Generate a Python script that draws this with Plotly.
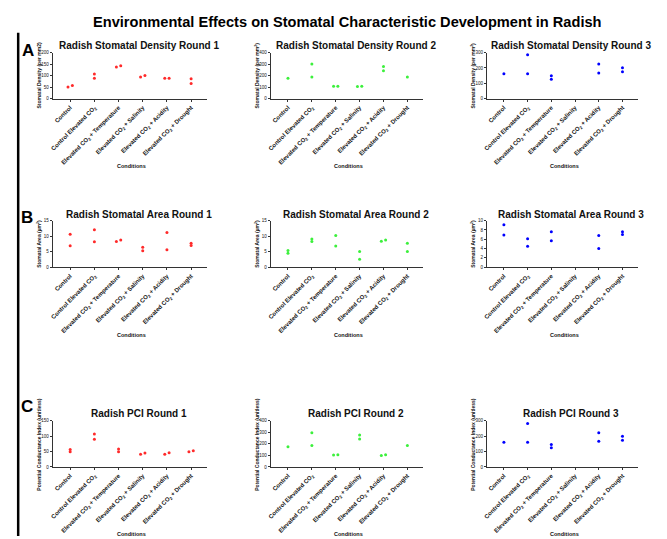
import plotly.graph_objects as go

W, H = 667, 539

categories = ["Control",
              "Control Elevated CO<sub>2</sub>",
              "Elevated CO<sub>2</sub> + Temperature",
              "Elevated CO<sub>2</sub> + Salinity",
              "Elevated CO<sub>2</sub> + Acidity",
              "Elevated CO<sub>2</sub> + Drought"]

density_r1 = [[51, 57], [107, 89], [137, 143], [94, 101], [89, 89], [87, 66]]
density_r2 = [[178], [300, 189], [109, 109], [106, 109], [280, 243], [189]]
density_r3 = [[163], [285, 163], [150, 126], [], [225, 167], [201, 176]]
area_r1 = [[10.6, 6.9], [12.1, 8.2], [8.3, 8.8], [6.4, 5.3], [11.2, 5.6], [7.7, 7.0]]
area_r2 = [[5.4, 4.5], [9.1, 8.3], [10.2, 6.8], [5.1, 2.6], [8.4, 8.8], [7.7, 5.1]]
area_r3 = [[9.1, 6.9], [6.1, 4.5], [7.6, 5.7], [], [6.8, 4.0], [7.6, 7.0]]
pci_r1 = [[57, 49], [107, 90], [58, 49], [41, 45], [41, 46], [49, 53]]
pci_r2 = [[174], [297, 186], [103, 106], [277, 243], [100, 106], [186]]
pci_r3 = [[161], [283, 161], [146, 124], [], [223, 167], [199, 173]]

y_max = [200, 400, 300, 15, 15, 10, 150, 400, 300]
y_dtick = [50, 100, 100, 5, 5, 2, 50, 100, 100]
panel_titles = ["Radish Stomatal Density Round 1", "Radish Stomatal Density Round 2",
                "Radish Stomatal Density Round 3", "Radish Stomatal Area Round 1",
                "Radish Stomatal Area Round 2", "Radish Stomatal Area Round 3",
                "Radish PCI Round 1", "Radish PCI Round 2", "Radish PCI Round 3"]
y_titles = ["Stomatal Density (per mm2)", "Stomatal Density (per mm<sup>2</sup>)",
            "Stomatal Density (per mm<sup>2</sup>)", "Stomatal Area (µm<sup>2</sup>)",
            "Stomatal Area (µm<sup>2</sup>)", "Stomatal Area (µm<sup>2</sup>)",
            "Potential Conductance Index (unitless)", "Potential Conductance Index (unitless)",
            "Potential Conductance Index (unitless)"]
round_colors = ["#ff2a2a", "#3cf03c", "#0000ff"]
panel_letters = ["A", "B", "C"]

data = [density_r1, density_r2, density_r3, area_r1, area_r2, area_r3, pci_r1, pci_r2, pci_r3]

FONT = "Liberation Sans, Arial, Helvetica, sans-serif"

# layout in pixels
col_x = [(50, 205), (269, 422), (486, 638)]
row_y = [(51, 97.7), (220.7, 267.7), (422.7, 469.3)]
title_y = [44, 214, 415.7]
title_dx = 9
letter_pos = [(25, 49), (24, 218), (24, 408)]

def fx(x):
    return x / W

def fy(y):
    return 1 - y / H

fig = go.Figure()
annotations = []

for i in range(9):
    r, c = divmod(i, 3)
    k = i + 1
    xa = "x" if k == 1 else f"x{k}"
    ya = "y" if k == 1 else f"y{k}"
    xs, ys = [], []
    thr = 0.042 * y_max[i]
    for ci, vals in enumerate(data[i]):
        if len(vals) == 2 and abs(vals[0] - vals[1]) < thr:
            lo, hi = sorted(vals)
            xs += [ci - 0.09, ci + 0.09]
            ys += [lo, hi]
        else:
            xs += [ci] * len(vals)
            ys += list(vals)
    fig.add_trace(go.Scatter(x=xs, y=ys, mode="markers", xaxis=xa, yaxis=ya,
                             marker=dict(size=3, color=round_colors[c]),
                             showlegend=False, cliponaxis=False, hoverinfo="y"))
    x0, x1 = col_x[c]
    y0, y1 = row_y[r]
    fig.layout[("xaxis" if k == 1 else f"xaxis{k}")] = dict(
        domain=[fx(x0), fx(x1)], anchor=ya, range=[-0.72, 5.66],
        tickmode="array", tickvals=list(range(6)), ticktext=categories,
        tickangle=-45, tickfont=dict(size=6, family=FONT, color="#111", weight="bold"),
        showline=True, linecolor="#333", linewidth=1, ticks="outside", ticklen=2,
        tickcolor="#333", tickwidth=0.8, showgrid=False, zeroline=False, fixedrange=True)
    fig.layout[("yaxis" if k == 1 else f"yaxis{k}")] = dict(
        domain=[fy(y1), fy(y0)], anchor=xa, range=[0, y_max[i]], dtick=y_dtick[i],
        tick0=0, tickfont=dict(size=4.5, family=FONT, color="#111"),
        showline=True, linecolor="#333", linewidth=1, ticks="outside", ticklen=2,
        tickcolor="#333", tickwidth=0.8, showgrid=False, zeroline=False, fixedrange=True)
    # subplot title
    annotations.append(dict(text=f"<b>{panel_titles[i]}</b>", xref="paper", yref="paper",
                            x=fx((x0 + x1) / 2 + title_dx), y=fy(title_y[r]),
                            xanchor="center", yanchor="middle", showarrow=False,
                            font=dict(size=10, family=FONT, color="#111")))
    # y title
    annotations.append(dict(text=y_titles[i], xref="paper", yref="paper",
                            x=fx(x0 - 14), y=fy((y0 + y1) / 2), textangle=-90,
                            xanchor="center", yanchor="middle", showarrow=False,
                            font=dict(size=5, family=FONT, color="#111", weight="bold")))
    # x title
    annotations.append(dict(text="Conditions", xref="paper", yref="paper",
                            x=fx((x0 + x1) / 2 + 2), y=fy(y1 + 68),
                            xanchor="center", yanchor="middle", showarrow=False,
                            font=dict(size=5.5, family=FONT, color="#111", weight="bold")))

for r in range(3):
    lx, ly = letter_pos[r]
    annotations.append(dict(text=f"<b>{panel_letters[r]}</b>", xref="paper", yref="paper",
                            x=fx(lx), y=fy(ly), xanchor="center", yanchor="middle",
                            showarrow=False, font=dict(size=17, family=FONT, color="#000")))

annotations.append(dict(text="<b>Environmental Effects on Stomatal Characteristic Development in Radish</b>",
                        xref="paper", yref="paper", x=fx(346), y=fy(20),
                        xanchor="center", yanchor="middle", showarrow=False,
                        font=dict(size=14.6, family=FONT, color="#000")))

fig.update_layout(
    width=W, height=H, margin=dict(l=0, r=0, t=0, b=0),
    paper_bgcolor="white", plot_bgcolor="white",
    annotations=annotations,
    shapes=[dict(type="rect", xref="paper", yref="paper", x0=fx(14), x1=fx(16.5),
                 y0=0, y1=fy(31), fillcolor="#000", line=dict(width=0))],
)

fig.write_html("out.html")
